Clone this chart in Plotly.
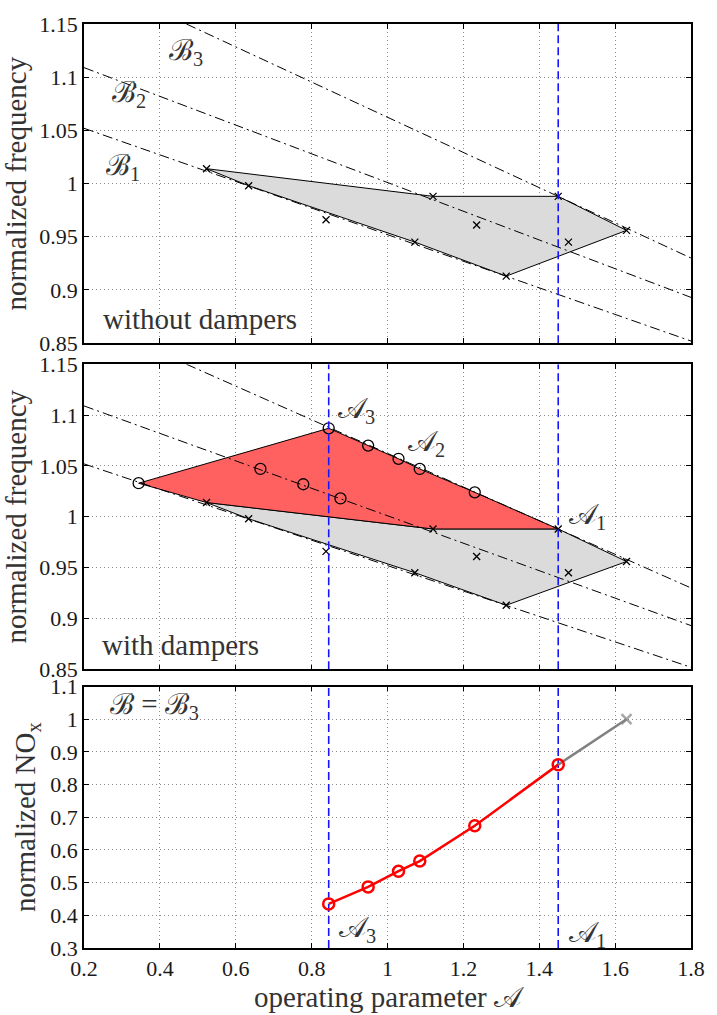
import plotly.graph_objects as go

# Operating points of the burner without dampers (operating parameter A, normalized frequency)
A_plain = [0.523, 0.634, 0.838, 1.072, 1.120, 1.235, 1.313, 1.450, 1.477, 1.630]
f_plain = [1.014, 0.998, 0.966, 0.945, 0.988, 0.961, 0.913, 0.988, 0.945, 0.956]
# Boundary of the stable region (indices into the points above)
stable_idx = [0, 4, 7, 9, 6, 3, 1, 0]

# Additional operating points made stable by dampers
A_damp = [0.344, 0.665, 0.778, 0.845, 0.876, 0.949, 1.029, 1.085, 1.230]
f_damp = [1.033, 1.047, 1.032, 1.087, 1.018, 1.070, 1.057, 1.047, 1.024]
# Boundary of the extended region
ext_A = [0.344, 0.845, 0.949, 1.029, 1.085, 1.230, 1.450, 1.120, 0.523, 0.344]
ext_f = [1.033, 1.087, 1.070, 1.057, 1.047, 1.024, 0.988, 0.988, 1.014, 1.033]

# Iso-lines of parameter B (endpoints)
B_lines = {
    "B1": ([0.20, 1.80], [1.052, 0.852]),
    "B2": ([0.20, 1.80], [1.109, 0.893]),
    "B3": ([0.47, 1.80], [1.150, 0.930]),
}

# Marked operating limits
A1 = 1.450
A3 = 0.845

# NOx along B = B3
A_nox = [0.845, 0.949, 1.029, 1.085, 1.230, 1.450]
nox = [0.435, 0.487, 0.535, 0.566, 0.674, 0.861]
A_nox_ext = [1.450, 1.630]
nox_ext = [0.861, 1.000]

# Axis ticks
x_ticks = [0.2, 0.4, 0.6, 0.8, 1.0, 1.2, 1.4, 1.6, 1.8]
x_text = ["0.2", "0.4", "0.6", "0.8", "1", "1.2", "1.4", "1.6", "1.8"]
f_ticks = [0.85, 0.90, 0.95, 1.00, 1.05, 1.10, 1.15]
f_text = ["0.85", "0.9", "0.95", "1", "1.05", "1.1", "1.15"]
n_ticks = [0.3, 0.4, 0.5, 0.6, 0.7, 0.8, 0.9, 1.0, 1.1]
n_text = ["0.3", "0.4", "0.5", "0.6", "0.7", "0.8", "0.9", "1", "1.1"]

FONT = "'Liberation Serif', 'Times New Roman', Times, serif"
GRAY_FILL = "rgb(220,219,220)"
RED_FILL = "rgb(255,96,96)"
BLUE = "rgb(20,20,255)"
TXT = "#333333"

fig = go.Figure()


def add(trace, row):
    suffix = "" if row == 1 else str(row)
    trace.update(xaxis="x" + suffix, yaxis="y" + suffix, showlegend=False, hoverinfo="skip")
    fig.add_trace(trace)


def freq_panel(row, with_dampers):
    # stable region without dampers
    add(go.Scatter(x=[A_plain[i] for i in stable_idx], y=[f_plain[i] for i in stable_idx],
                   mode="lines", fill="toself", fillcolor=GRAY_FILL,
                   line=dict(color="black", width=1)), row)
    if with_dampers:
        add(go.Scatter(x=ext_A, y=ext_f, mode="lines", fill="toself", fillcolor=RED_FILL,
                       line=dict(color="black", width=1)), row)
    # iso-B lines
    for xs, ys in B_lines.values():
        add(go.Scatter(x=xs, y=ys, mode="lines",
                       line=dict(color="black", width=1, dash="10px,4px,2px,4px")), row)
    add(go.Scatter(x=A_plain, y=f_plain, mode="markers",
                   marker=dict(symbol="x-thin-open", size=7, color="black",
                               line=dict(color="black", width=1.3))), row)
    if with_dampers:
        add(go.Scatter(x=A_damp, y=f_damp, mode="markers",
                       marker=dict(symbol="circle-open", size=11, color="black",
                                   line=dict(color="black", width=1.3))), row)
    limits = [A1, A3] if with_dampers else [A1]
    for a in limits:
        add(go.Scatter(x=[a, a], y=[f_ticks[0], f_ticks[-1]], mode="lines",
                       line=dict(color=BLUE, width=1.6, dash="8px,4px")), row)


freq_panel(1, False)
freq_panel(2, True)

# NOx panel
for a in [A1, A3]:
    add(go.Scatter(x=[a, a], y=[n_ticks[0], n_ticks[-1]], mode="lines",
                   line=dict(color=BLUE, width=1.6, dash="8px,4px")), 3)
add(go.Scatter(x=A_nox_ext, y=nox_ext, mode="lines+markers",
               line=dict(color="rgb(128,128,128)", width=2.5),
               marker=dict(symbol=["circle-open", "x-thin-open"], size=[0, 10],
                           color="rgb(128,128,128)",
                           line=dict(color="rgb(128,128,128)", width=2.5))), 3)
add(go.Scatter(x=A_nox, y=nox, mode="lines+markers",
               line=dict(color="red", width=2.5),
               marker=dict(symbol="circle-open", size=11, color="red",
                           line=dict(color="red", width=2.5))), 3)

axis_common = dict(
    showline=True, linecolor="black", linewidth=1.5, mirror="allticks",
    ticks="inside", ticklen=5, tickwidth=1, tickcolor="black",
    showgrid=True, gridcolor="rgb(140,140,140)", gridwidth=1, griddash="1px,3px",
    zeroline=False, tickfont=dict(family=FONT, size=22, color="#1a1a1a"),
)

domains = {1: [0.6546, 1.0], 2: [0.3016, 0.6318], 3: [0.0, 0.283]}
layout = dict(
    width=717, height=1015,
    margin=dict(l=84, r=18, t=15, b=54),
    paper_bgcolor="white", plot_bgcolor="white",
    font=dict(family=FONT, color=TXT),
)
for row in (1, 2, 3):
    s = "" if row == 1 else str(row)
    xa = dict(axis_common, range=[0.2, 1.8], tickvals=x_ticks, ticktext=x_text,
              anchor="y" + s, showticklabels=(row == 3))
    if row == 3:
        xa["title"] = dict(text="operating parameter 𝒜",
                           font=dict(family=FONT, size=29, color=TXT), standoff=2)
    if row < 3:
        ya = dict(axis_common, range=[0.85, 1.15], tickvals=f_ticks, ticktext=f_text,
                  title=dict(text="normalized frequency",
                             font=dict(family=FONT, size=29, color=TXT), standoff=6))
    else:
        ya = dict(axis_common, range=[0.3, 1.1], tickvals=n_ticks, ticktext=n_text,
                  title=dict(text="normalized NO<sub>x</sub>",
                             font=dict(family=FONT, size=29, color=TXT), standoff=6))
    ya.update(anchor="x" + s, domain=domains[row])
    layout["xaxis" + s] = xa
    layout["yaxis" + s] = ya
fig.update_layout(**layout)


def label(text, x, y, row, size=29):
    s = "" if row == 1 else str(row)
    fig.add_annotation(text=text, x=x, y=y, xref="x" + s, yref="y" + s,
                       xanchor="left", yanchor="middle", showarrow=False,
                       font=dict(family=FONT, size=size, color=TXT))


label("ℬ<sub>3</sub>", 0.419, 1.124, 1)
label("ℬ<sub>2</sub>", 0.268, 1.084, 1)
label("ℬ<sub>1</sub>", 0.252, 1.016, 1)
label("without dampers", 0.246, 0.873, 1)
label("with dampers", 0.242, 0.874, 2)
label("𝒜<sub>3</sub>", 0.864, 1.105, 2)
label("𝒜<sub>2</sub>", 1.048, 1.073, 2)
label("𝒜<sub>1</sub>", 1.473, 1.001, 2)
label("ℬ = ℬ<sub>3</sub>", 0.262, 1.040, 3)
label("𝒜<sub>3</sub>", 0.866, 0.357, 3)
label("𝒜<sub>1</sub>", 1.473, 0.342, 3)

fig.write_html("out.html")
